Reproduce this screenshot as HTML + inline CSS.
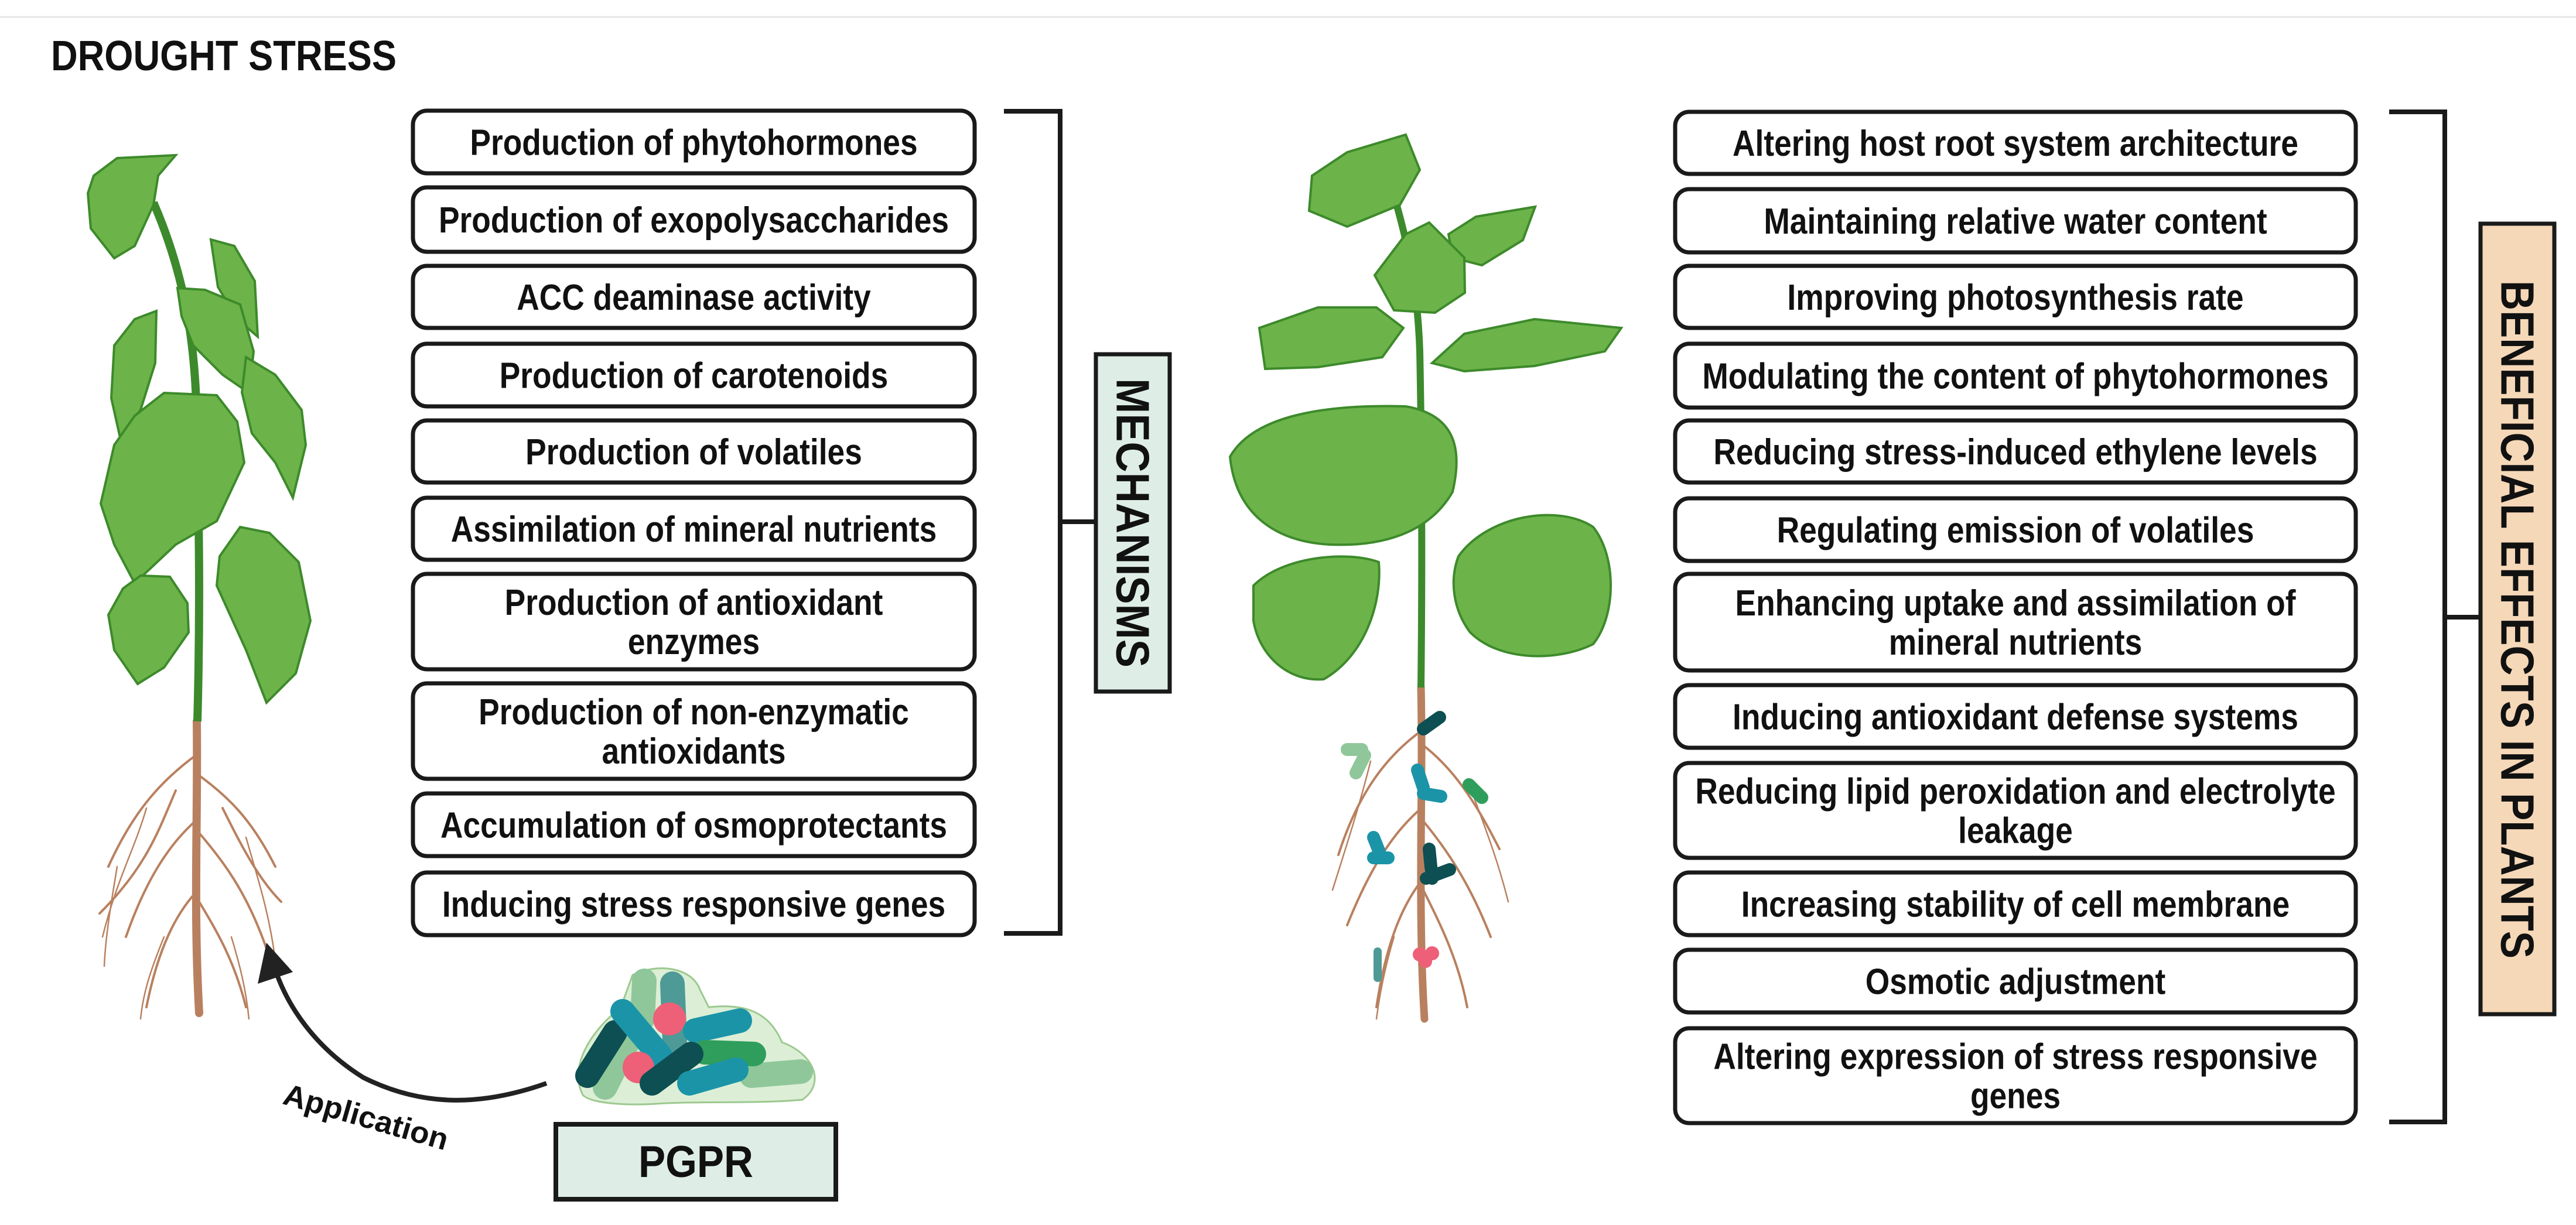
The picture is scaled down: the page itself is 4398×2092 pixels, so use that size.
<!DOCTYPE html>
<html><head><meta charset="utf-8">
<style>
html,body{margin:0;padding:0;background:#fff;}
svg{display:block;}
.bt{font-family:"Liberation Sans",sans-serif;font-weight:bold;font-size:62px;fill:#111;}
</style></head>
<body>
<svg id="fig" width="4398" height="2092" viewBox="0 0 4398 2092" xmlns="http://www.w3.org/2000/svg">
<line x1="0" y1="29" x2="4398" y2="29" stroke="#e6e6e6" stroke-width="3"/>
<text x="87" y="120" font-family="Liberation Sans,sans-serif" font-weight="bold" font-size="72" fill="#111" textLength="590" lengthAdjust="spacingAndGlyphs">DROUGHT STRESS</text>

<!-- left plant -->
<g>
<g fill="none" stroke="#b9805f" stroke-linecap="round">
<path d="M336 1232 C338 1400 330 1550 340 1730" stroke-width="14"/>
<path d="M334 1290 C280 1330 230 1380 185 1480 M334 1320 C390 1360 430 1400 470 1480 M336 1400 C290 1440 250 1500 215 1600 M338 1420 C380 1470 420 1520 455 1620 M338 1520 C300 1560 270 1620 250 1720 M340 1540 C370 1590 400 1640 420 1720 M300 1350 C270 1420 250 1480 170 1560 M380 1380 C410 1440 440 1500 480 1540" stroke-width="4"/>
<path d="M250 1380 C230 1450 200 1500 175 1600 M420 1430 C440 1500 460 1560 470 1640 M280 1600 C260 1650 245 1690 240 1740 M395 1600 C410 1650 420 1690 425 1740 M200 1480 C190 1540 180 1600 178 1650" stroke-width="2.5"/>
</g>
<path d="M337 1232 C342 1050 340 900 336 720 C334 600 320 480 262 346" fill="none" stroke="#3c8a2c" stroke-width="14"/>
<g fill="#6cb34a" stroke="#3d8a2b" stroke-width="4">
<path d="M160 300 L200 270 L300 265 L270 300 L262 350 L230 420 L195 441 L155 390 L150 330 Z"/>
<path d="M360 409 L400 420 L435 480 L440 575 L405 545 L372 490 Z"/>
<path d="M267 531 L265 620 L240 700 L205 747 L190 680 L195 590 L230 545 Z"/>
<path d="M303 492 L350 495 L410 520 L433 600 L425 671 L380 640 L330 590 L310 540 Z"/>
<path d="M420 610 L470 640 L515 700 L522 760 L500 850 L470 790 L430 740 L413 670 Z"/>
<path d="M280 671 L370 675 L405 720 L417 790 L370 890 L300 930 L230 996 L195 930 L172 860 L195 760 L230 710 Z"/>
<path d="M410 900 L460 910 L510 960 L530 1060 L505 1150 L455 1200 L420 1110 L370 1000 L375 950 Z"/>
<path d="M240 983 L290 985 L320 1030 L322 1080 L280 1140 L235 1168 L195 1110 L185 1050 L210 1005 Z"/>
</g>
</g>

<!-- arrow -->
<g>
<path d="M933 1850 C820 1890 720 1890 620 1840 C540 1790 490 1720 468 1650" fill="none" stroke="#222" stroke-width="8"/>
<polygon points="455,1610 440,1680 500,1660" fill="#222"/>
</g>
<text x="623" y="1925" text-anchor="middle" transform="rotate(16 623 1914)" font-family="Liberation Sans,sans-serif" font-weight="bold" font-size="52" fill="#111" textLength="290" lengthAdjust="spacingAndGlyphs">Application</text>

<!-- bacteria -->
<g stroke-linecap="round" fill="none">
<path d="M995 1870 C970 1820 1010 1760 1060 1720 L1080 1665 C1120 1645 1180 1650 1195 1690 L1210 1720 C1260 1715 1310 1720 1335 1780 C1390 1800 1410 1850 1370 1878 C1300 1885 1200 1880 1120 1885 C1070 1888 1010 1885 995 1870 Z" fill="#dcefd6" stroke="#9cc98f" stroke-width="3"/>
<line x1="1100" y1="1675" x2="1097" y2="1740" stroke="#8fc79a" stroke-width="42"/>
<line x1="1148" y1="1680" x2="1152" y2="1777" stroke="#4e9a96" stroke-width="42"/>
<line x1="1033" y1="1857" x2="1073" y2="1777" stroke="#8fc79a" stroke-width="42"/>
<line x1="1283" y1="1837" x2="1367" y2="1830" stroke="#8fc79a" stroke-width="42"/>
<line x1="1003" y1="1837" x2="1050" y2="1763" stroke="#0d4f52" stroke-width="42"/>
<line x1="1063" y1="1727" x2="1127" y2="1803" stroke="#1b94a8" stroke-width="42"/>
<circle cx="1143" cy="1740" r="28" fill="#ee5f78"/>
<line x1="1187" y1="1760" x2="1263" y2="1743" stroke="#1b94a8" stroke-width="42"/>
<line x1="1203" y1="1797" x2="1287" y2="1800" stroke="#2f9e5c" stroke-width="42"/>
<circle cx="1090" cy="1823" r="27" fill="#ee5f78"/>
<line x1="1113" y1="1850" x2="1180" y2="1800" stroke="#0d4f52" stroke-width="42"/>
<line x1="1177" y1="1850" x2="1257" y2="1827" stroke="#1b94a8" stroke-width="42"/>
</g>
<rect x="949" y="1920" width="478" height="128" fill="#deeee6" stroke="#1a1a1a" stroke-width="8"/>
<text x="1188" y="2010" text-anchor="middle" font-family="Liberation Sans,sans-serif" font-weight="bold" font-size="76" fill="#111" textLength="196" lengthAdjust="spacingAndGlyphs">PGPR</text>

<g id="mech"></g>
<path d="M1714 190 L1810 190 L1810 1594 L1714 1594 M1810 891 L1869 891" fill="none" stroke="#1a1a1a" stroke-width="8"/>
<rect x="1871" y="605" width="126" height="576" fill="#deeee6" stroke="#1a1a1a" stroke-width="7"/>
<text x="1934" y="893" text-anchor="middle" dominant-baseline="central" transform="rotate(90 1934 893)" font-family="Liberation Sans,sans-serif" font-weight="bold" font-size="80" fill="#111" textLength="494" lengthAdjust="spacingAndGlyphs">MECHANISMS</text>

<!-- right plant -->
<g>
<g fill="none" stroke="#b9805f" stroke-linecap="round">
<path d="M2426 1174 C2430 1350 2420 1550 2432 1740" stroke-width="13"/>
<path d="M2424 1250 C2370 1290 2320 1350 2285 1460 M2426 1270 C2480 1310 2520 1370 2560 1450 M2427 1380 C2380 1420 2340 1480 2300 1580 M2428 1400 C2470 1450 2510 1510 2545 1600 M2430 1500 C2390 1550 2365 1620 2350 1720 M2430 1520 C2460 1580 2490 1640 2505 1720" stroke-width="4"/>
<path d="M2340 1300 C2320 1380 2300 1440 2275 1520 M2505 1330 C2530 1400 2555 1460 2575 1540 M2380 1600 C2365 1650 2355 1700 2350 1740" stroke-width="2.5"/>
</g>
<path d="M2426 1174 C2428 1000 2428 800 2424 600 C2420 480 2400 400 2370 300" fill="none" stroke="#3c8a2c" stroke-width="12"/>
<g fill="#6cb34a" stroke="#3d8a2b" stroke-width="4">
<path d="M2240 300 L2300 260 L2400 230 L2424 290 L2390 350 L2300 387 L2235 360 Z"/>
<path d="M2473 400 L2520 370 L2621 353 L2600 410 L2530 453 L2480 440 Z"/>
<path d="M2347 470 L2400 400 L2440 380 L2500 440 L2501 500 L2450 534 L2380 530 Z"/>
<path d="M2150 560 L2250 525 L2350 525 L2396 560 L2360 610 L2250 627 L2160 630 Z"/>
<path d="M2445 620 L2500 570 L2620 545 L2768 560 L2740 600 L2620 625 L2500 634 Z"/>
<path d="M2100 780 C2140 710 2260 690 2400 694 C2494 710 2494 780 2480 840 C2440 910 2360 934 2270 930 C2180 925 2110 880 2100 780 Z"/>
<path d="M2490 950 C2540 880 2660 860 2720 900 C2760 950 2760 1050 2720 1100 C2660 1130 2560 1130 2510 1080 C2480 1040 2475 990 2490 950 Z"/>
<path d="M2140 1000 C2190 950 2300 940 2354 960 C2360 1030 2330 1120 2260 1160 C2200 1165 2150 1120 2140 1060 Z"/>
</g>
<g stroke-linecap="round" fill="none" stroke-width="22">
<line x1="2430" y1="1245" x2="2458" y2="1225" stroke="#0d4f52"/>
<line x1="2300" y1="1280" x2="2325" y2="1280" stroke="#8fc79a"/>
<line x1="2330" y1="1290" x2="2315" y2="1320" stroke="#8fc79a"/>
<line x1="2420" y1="1315" x2="2430" y2="1345" stroke="#1b94a8"/>
<line x1="2430" y1="1355" x2="2460" y2="1360" stroke="#1b94a8"/>
<line x1="2508" y1="1340" x2="2530" y2="1362" stroke="#2f9e5c"/>
<line x1="2345" y1="1430" x2="2355" y2="1455" stroke="#1b94a8"/>
<line x1="2345" y1="1465" x2="2370" y2="1465" stroke="#1b94a8"/>
<line x1="2440" y1="1450" x2="2445" y2="1500" stroke="#0d4f52"/>
<line x1="2435" y1="1500" x2="2475" y2="1485" stroke="#0d4f52"/>
<line x1="2352" y1="1625" x2="2352" y2="1670" stroke="#4e9a96" stroke-width="14"/>
<circle cx="2424" cy="1630" r="12" fill="#ee5f78" stroke="none"/>
<circle cx="2445" cy="1628" r="12" fill="#ee5f78" stroke="none"/>
<circle cx="2434" cy="1642" r="11" fill="#ee5f78" stroke="none"/>
</g>
</g>

<g id="bene"></g>
<path d="M4079 191 L4174 191 L4174 1916 L4079 1916 M4174 1054 L4233 1054" fill="none" stroke="#1a1a1a" stroke-width="8"/>
<rect x="4235" y="382" width="126" height="1350" fill="#f5d8b8" stroke="#1a1a1a" stroke-width="7"/>
<text x="4298" y="1058" text-anchor="middle" dominant-baseline="central" transform="rotate(90 4298 1058)" font-family="Liberation Sans,sans-serif" font-weight="bold" font-size="80" fill="#111" textLength="1158" lengthAdjust="spacingAndGlyphs">BENEFICIAL EFFECTS IN PLANTS</text>
</svg>
<script>
const mechLabels=[["Production of phytohormones"],["Production of exopolysaccharides"],["ACC deaminase activity"],["Production of carotenoids"],["Production of volatiles"],["Assimilation of mineral nutrients"],["Production of antioxidant","enzymes"],["Production of non-enzymatic","antioxidants"],["Accumulation of osmoprotectants"],["Inducing stress responsive genes"]];
const mechTop=[189,320,454,587,718,850,980,1167,1355,1490];
const mechBot=[296,430,560,694,824,956,1143,1330,1462,1597];
const beneLabels=[["Altering host root system architecture"],["Maintaining relative water content"],["Improving photosynthesis rate"],["Modulating the content of phytohormones"],["Reducing stress-induced ethylene levels"],["Regulating emission of volatiles"],["Enhancing uptake and assimilation of","mineral nutrients"],["Inducing antioxidant defense systems"],["Reducing lipid peroxidation and electrolyte","leakage"],["Increasing stability of cell membrane"],["Osmotic adjustment"],["Altering expression of stress responsive","genes"]];
const beneTop=[191,323,454,587,718,851,980,1170,1303,1490,1622,1756];
const beneBot=[297,431,560,696,824,958,1145,1277,1465,1597,1729,1918];
const NS="http://www.w3.org/2000/svg";
function build(g,labels,tops,bots,x0,x1,prefix){
  labels.forEach((lines,i)=>{
    const r=document.createElementNS(NS,'rect');
    
    
    r.setAttribute('x',x0);r.setAttribute('y',tops[i]);
    r.setAttribute('width',x1-x0);r.setAttribute('height',bots[i]-tops[i]);
    r.setAttribute('rx',24);r.setAttribute('fill','#fff');
    r.setAttribute('stroke','#1a1a1a');r.setAttribute('stroke-width',7);
    g.appendChild(r);
    const cy=(tops[i]+bots[i])/2, cx=(x0+x1)/2;
    lines.forEach((ln,j)=>{
      const t=document.createElementNS(NS,'text');
      
      
      t.setAttribute('class','bt');
      t.setAttribute('x',cx);t.setAttribute('text-anchor','middle');
      const y=cy+22+(j-(lines.length-1)/2)*67;
      t.setAttribute('y',y);
      t.textContent=ln;
      g.appendChild(t);
      const w=t.getComputedTextLength();
      t.setAttribute('textLength',Math.min(w*0.86,x1-x0-40));
      t.setAttribute('lengthAdjust','spacingAndGlyphs');
    });
  });
}
build(document.getElementById('mech'),mechLabels,mechTop,mechBot,705,1664,'mechanism');
build(document.getElementById('bene'),beneLabels,beneTop,beneBot,2860,4022,'effect');
</script>
</body></html>
